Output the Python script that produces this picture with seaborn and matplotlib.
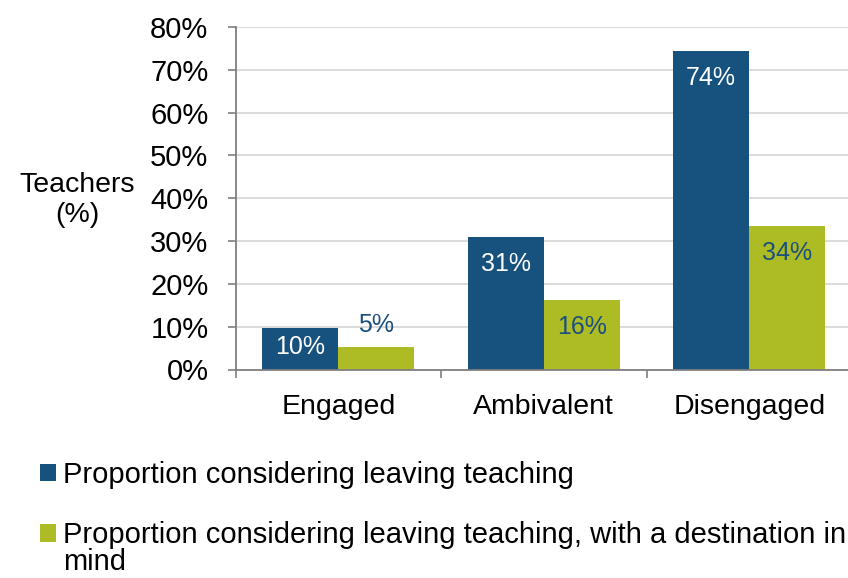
import matplotlib
matplotlib.use("Agg")
import matplotlib.pyplot as plt
from matplotlib import font_manager
from matplotlib.patches import Patch
from matplotlib.ticker import PercentFormatter, FixedLocator
import seaborn as sns
import pandas as pd

categories = ["Engaged", "Ambivalent", "Disengaged"]
series_names = [
    "Proportion considering leaving teaching",
    "Proportion considering leaving teaching, with a destination in mind",
]
considering = [0.097, 0.309, 0.743]
with_destination = [0.053, 0.162, 0.335]
labels_considering = ["10%", "31%", "74%"]
labels_destination = ["5%", "16%", "34%"]
y_ticks = [0.0, 0.1, 0.2, 0.3, 0.4, 0.5, 0.6, 0.7, 0.8]

BLUE = "#17527F"
GREEN = "#ADBB24"
LABEL_DARK = "#1B4F7E"

df = pd.DataFrame({
    "category": categories * 2,
    "series": [series_names[0]] * 3 + [series_names[1]] * 3,
    "value": considering + with_destination,
})

sns.set_theme(style="white")
avail = {f.name for f in font_manager.fontManager.ttflist}
base = "Liberation Sans" if "Liberation Sans" in avail else "DejaVu Sans"
plt.rcParams["font.family"] = [base, "DejaVu Sans"]
plt.rcParams["text.color"] = "black"

W, H = 848, 578
fig = plt.figure(figsize=(W / 100, H / 100), dpi=100)
ax_left = 235.5 / W
ax_bottom = (H - 369.5) / H
ax_width = (852 - 235.5) / W
ax_height = (369.5 - 27) / H
ax = fig.add_axes([ax_left, ax_bottom, ax_width, ax_height])

sns.barplot(data=df, x="category", y="value", hue="series",
            palette=[BLUE, GREEN], width=0.74, dodge=True, gap=0,
            saturation=1, ax=ax, legend=False, linewidth=0)

ax.set_xlim(-0.5, 2.5)
ax.set_ylim(0, 0.8)
ax.yaxis.set_major_locator(FixedLocator(y_ticks))
ax.yaxis.set_major_formatter(PercentFormatter(1.0, decimals=0))
ax.grid(axis="y", color="#D9D9D9", linewidth=1.3)
ax.set_axisbelow(True)
for s in ["top", "right"]:
    ax.spines[s].set_visible(False)
for s in ["left", "bottom"]:
    ax.spines[s].set_color("#7F7F7F")
    ax.spines[s].set_linewidth(1.3)

ax.tick_params(axis="y", which="major", direction="out", length=6, width=1.2,
               color="#7F7F7F", labelsize=21, pad=13.5, left=True, labelcolor="black")
ax.xaxis.set_minor_locator(FixedLocator([-0.5, 0.5, 1.5, 2.5]))
ax.tick_params(axis="x", which="minor", direction="out", length=6, width=1.2,
               color="#7F7F7F", bottom=True)
ax.tick_params(axis="x", which="major", length=0, labelsize=20.5, pad=18,
               labelcolor="black")

ax.set_xlabel("")
ax.set_ylabel("Teachers\n(%)", rotation=0, fontsize=20.5, ha="center", va="center",
              linespacing=1.17, color="black")
ax.yaxis.set_label_coords((77 - 235.5) / (852 - 235.5), 0.495)

# data labels
px_per_unit = (369.5 - 27) / 0.8
label_lists = [labels_considering, labels_destination]
for ci, container in enumerate(ax.containers):
    for bi, bar in enumerate(container.patches):
        h = bar.get_height()
        hpx = h * px_per_unit
        xc = bar.get_x() + bar.get_width() / 2
        txt = label_lists[ci][bi]
        if hpx < 30:
            ax.annotate(txt, (xc, h), xytext=(0, 22), textcoords="offset pixels",
                        ha="center", va="center", fontsize=18, color=LABEL_DARK)
        else:
            off = min(27, hpx / 2 - 2)
            col = "white" if ci == 0 else LABEL_DARK
            ax.annotate(txt, (xc, h), xytext=(0, -off), textcoords="offset pixels",
                        ha="center", va="center", fontsize=18, color=col)

# legend
leg_fs = 21
handles = [Patch(facecolor=BLUE, edgecolor="none"), Patch(facecolor=GREEN, edgecolor="none")]
leg_labels = [series_names[0], "Proportion considering leaving teaching, with a destination in"]
leg = fig.legend(handles, leg_labels, loc="upper left",
                 bbox_to_anchor=(40 / W, (H - 461) / H),
                 frameon=False, handlelength=0.55, handleheight=0.55,
                 handletextpad=0.24, labelspacing=1.1, borderpad=0,
                 borderaxespad=0, prop={"size": leg_fs}, labelcolor="black")
fig.canvas.draw()
txt_box = leg.get_texts()[1].get_window_extent()
fig.text(txt_box.x0 / W, (txt_box.y0 + txt_box.height / 2 - 27) / H, "mind",
         ha="left", va="center", fontsize=leg_fs, color="black")

fig.savefig("out.png", dpi=100)
